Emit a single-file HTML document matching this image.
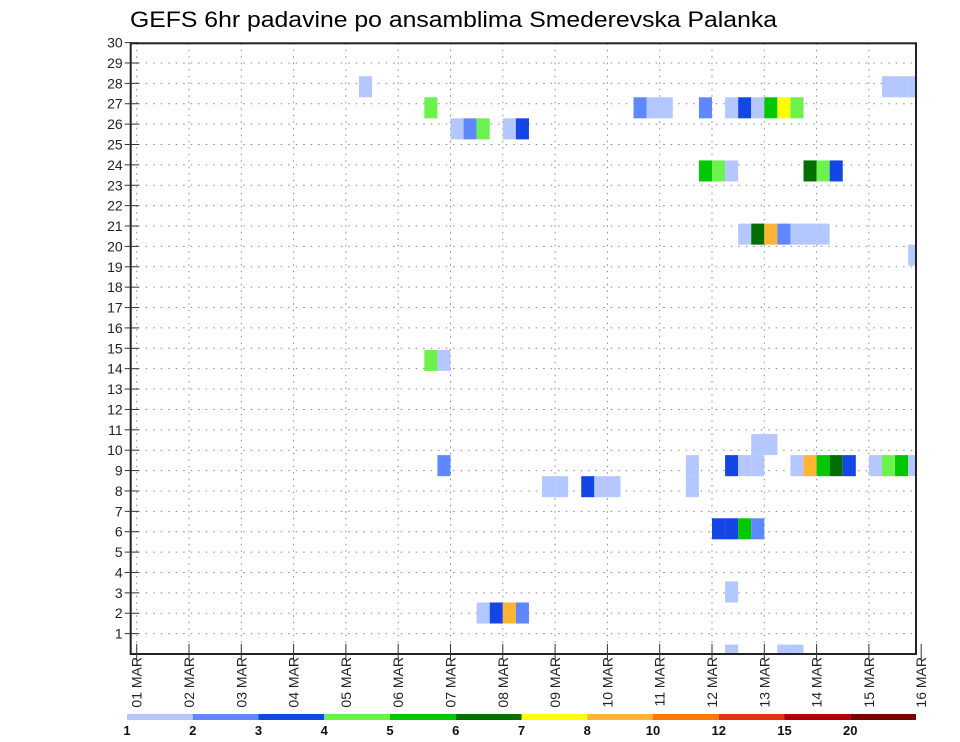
<!DOCTYPE html>
<html><head><meta charset="utf-8"><style>
body{margin:0;background:#fff;}
svg{display:block;font-family:"Liberation Sans",sans-serif;}
</style></head><body>
<svg id="c" width="960" height="742" viewBox="0 0 960 742">
<text x="130" y="27" font-size="22" textLength="647" lengthAdjust="spacingAndGlyphs" fill="#000">GEFS 6hr padavine po ansamblima Smederevska Palanka</text>
<g id="grid"></g><g id="cells"></g><g id="axes"></g><g id="legend"></g>
</svg>
<script>
// categories
const dayLabels = ["01","02","03","04","05","06","07","08","09","10","11","12","13","14","15","16"];
const memberTicks = [1,2,3,4,5,6,7,8,9,10,11,12,13,14,15,16,17,18,19,20,21,22,23,24,25,26,27,28,29,30];
const legendLabels = ["1","2","3","4","5","6","7","8","10","12","15","20"];
const legendColors = ["#b4c8ff","#5f87ff","#1446e6","#6cf24c","#00c800","#006e00","#ffff00","#ffb432","#ff7800","#e63214","#b40000","#780000"];
// cells: member, 6-hour step index (from 01 MAR 00z), colour class (0-based legend index)
const cellMember = [27,26,25,25,25,25,25, 26,26,26,26,26,26,26,26,26,26, 27,27,27, 23,23,23,23,23,23, 20,20,20,20,20,20,20, 19, 14,14, 10,10, 9,9,9,9,9,9,9,9,9,9,9,9,9,9, 8,8,8,8,8,8, 6,6,6,6, 3, 2,2,2,2, 0,0,0];
const cellStep   = [17,22,24,25,26,28,29, 38,39,40,43,45,46,47,48,49,50, 57,58,59, 43,44,45,51,52,53, 46,47,48,49,50,51,52, 59, 22,23, 47,48, 23,42,45,46,47,50,51,52,53,54,56,57,58,59, 42,31,32,34,35,36, 44,45,46,47, 45, 26,27,28,29, 45,49,50];
const cellClass  = [0,3,0,1,3,0,2, 1,0,0,1,0,2,0,4,6,3, 0,0,0, 4,3,0,5,3,2, 0,5,7,1,0,0,0, 0, 3,0, 0,0, 1,0,2,0,0,0,7,4,5,2,0,3,4,0, 0,0,0,2,0,0, 2,2,4,1, 0, 0,2,7,1, 0,0,0];
</script>
<script>
const NS="http://www.w3.org/2000/svg";
const L=130.7,R=916,T=43.3,B=654;
const xDay=d=>136.7+52.3*d;
const xStep=k=>xDay(k/4);
const yTick=v=>B-20.38*v;
const cellH=21.05;
const yCell=m=>655.1-cellH*m;
function mk(tag,attrs,parent){const e=document.createElementNS(NS,tag);for(const k in attrs)e.setAttribute(k,attrs[k]);parent.appendChild(e);return e;}
const grid=document.getElementById('grid'),cells=document.getElementById('cells'),axes=document.getElementById('axes'),leg=document.getElementById('legend');
mk('defs',{},grid).innerHTML='<clipPath id="clip"><rect x="'+L+'" y="'+T+'" width="'+(R-L)+'" height="'+(B-T)+'"/></clipPath>';
cells.setAttribute('clip-path','url(#clip)');
memberTicks.forEach(v=>{ if(v<30){const l=mk('line',{x1:L,x2:R,y1:yTick(v),y2:yTick(v),stroke:'#888','stroke-width':1,'stroke-dasharray':'1.5,6'},grid);

}});
dayLabels.forEach((d,i)=>{const x=xDay(i); if(x<R){const l=mk('line',{x1:x,x2:x,y1:T,y2:B,stroke:'#888','stroke-width':1,'stroke-dasharray':'1.5,5'},grid);

}});
cellMember.forEach((m,i)=>{const x=xStep(cellStep[i]);const r=mk('rect',{x:x,y:yCell(m)-cellH/2,width:52.3/4,height:cellH,fill:legendColors[cellClass[i]]},cells);

});
const fr=mk('rect',{x:L,y:T,width:R-L,height:B-T,fill:'none',stroke:'#222','stroke-width':2},axes);


memberTicks.forEach(v=>{const y=yTick(v);
const t=mk('line',{x1:L-6,x2:L+8,y1:y,y2:y,stroke:'#333','stroke-width':1},axes);


const tx=mk('text',{x:L-8,y:y+5,'font-size':14,'text-anchor':'end',fill:'#222'},axes);tx.textContent=v;

});
dayLabels.forEach((d,i)=>{const x=xDay(i);
const t=mk('line',{x1:x,x2:x,y1:B-10,y2:B+6,stroke:'#333','stroke-width':1},axes);


const tx=mk('text',{x:0,y:0,'font-size':14,'text-anchor':'end',fill:'#222',transform:'translate('+(x+5)+','+(B+3)+') rotate(-90)'},axes);tx.textContent=d+'  MAR';

});
const segW=(916-127)/legendColors.length;
legendColors.forEach((c,i)=>{const r=mk('rect',{x:127+i*segW,y:714,width:segW,height:6,fill:c},leg);


const tx=mk('text',{x:127+i*segW,y:735,'font-size':13,'font-weight':'bold','text-anchor':'middle',fill:'#111'},leg);tx.textContent=legendLabels[i];

});
</script>
</body></html>
